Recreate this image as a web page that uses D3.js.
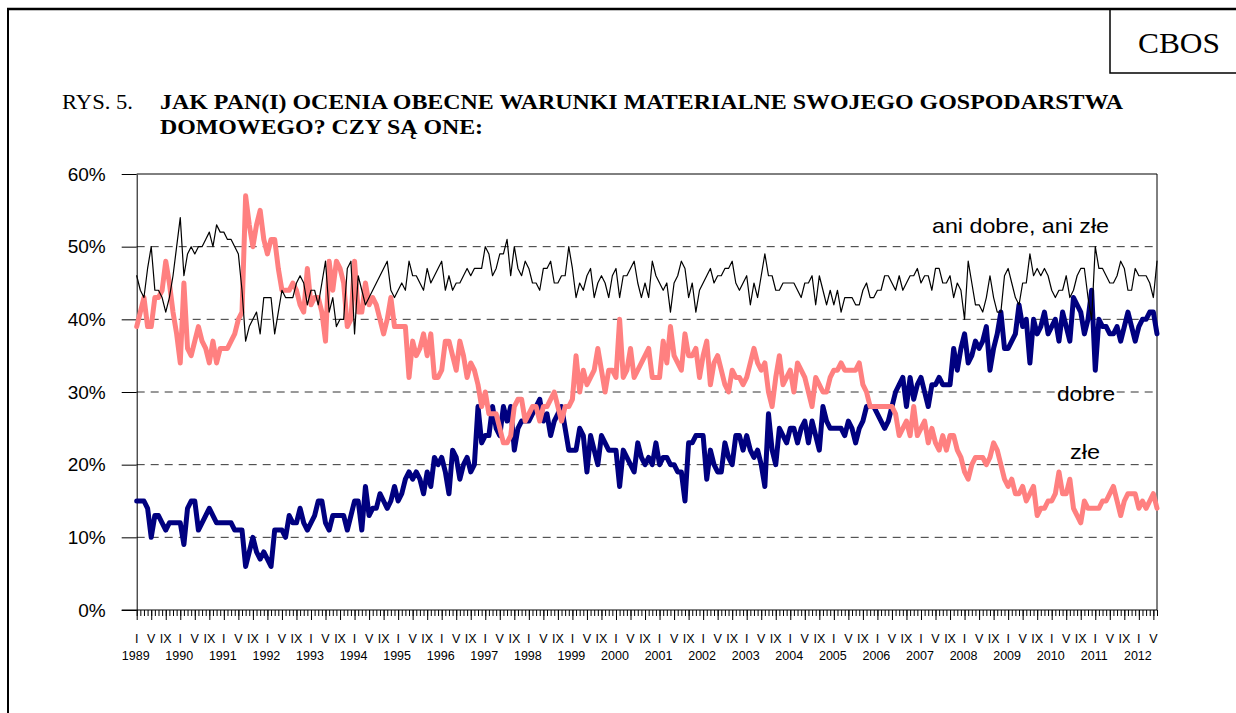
<!DOCTYPE html>
<html>
<head>
<meta charset="utf-8">
<script src="https://cdn.jsdelivr.net/npm/d3@7"></script>
<style>
    body { margin: 0; background: #fff; }
    svg { display: block; }
</style>
</head>
<body>
<svg id="chart" width="1236" height="713"></svg>
<script>
// survey years and month labels (roman numerals, as on the CBOS axis)
var years = [1989, 1990, 1991, 1992, 1993, 1994, 1995, 1996, 1997, 1998, 1999, 2000,
    2001, 2002, 2003, 2004, 2005, 2006, 2007, 2008, 2009, 2010, 2011, 2012];
var monthLabels = ["I", "II", "III", "IV", "V", "VI", "VII", "VIII", "IX", "X", "XI", "XII"];
var yTicks = [0, 10, 20, 30, 40, 50, 60];

// "dobre" - one row per year, monthly values in %
var dobre = [
    15, 15, 15, 14, 10, 13, 13, 12, 11, 12, 12, 12,
    12, 9, 14, 15, 15, 11, 12, 13, 14, 13, 12, 12,
    12, 12, 12, 11, 11, 11, 6, 8, 10, 8, 7, 8,
    7, 6, 11, 11, 11, 10, 13, 12, 12, 14, 12, 11,
    12, 13, 15, 15, 12, 11, 13, 13, 13, 13, 11, 13,
    15, 15, 11, 17, 13, 14, 14, 16, 15, 14, 15, 17,
    15, 16, 18, 19, 18, 19, 18, 16, 19, 17, 21, 20,
    21, 19, 16, 22, 21, 18, 20, 21, 19, 20, 28, 23,
    24, 24, 28, 25, 24, 28, 26, 28, 22, 25, 26, 26,
    26, 27, 28, 29, 26, 27, 24, 26, 27, 28, 25, 22,
    22, 22, 25, 24, 19, 24, 22, 20, 24, 23, 22, 22,
    22, 17, 22, 21, 20, 19, 23, 21, 20, 21, 20, 23,
    20, 21, 21, 20, 20, 19, 19, 15, 23, 23, 24, 24,
    24, 18, 22, 20, 19, 19, 23, 21, 20, 24, 24, 22,
    24, 22, 21, 22, 20, 17, 27, 22, 20, 25, 24, 23,
    25, 25, 23, 25, 26, 23, 26, 24, 22, 28, 26, 25,
    25, 25, 25, 24, 26, 25, 23, 25, 26, 28, 28, 28,
    27, 26, 25, 26, 28, 30, 31, 32, 28, 32, 29, 31,
    32, 30, 28, 31, 31, 32, 31, 31, 31, 36, 33, 36,
    38, 34, 35, 37, 36, 37, 39, 33, 36, 38, 41, 36,
    36, 37, 38, 42, 39, 40, 34, 40, 38, 39, 41, 38,
    39, 40, 37, 41, 39, 37, 43, 42, 41, 38, 40, 44,
    33, 40, 39, 39, 38, 38, 39, 37, 39, 41, 39, 37,
    39, 40, 40, 41, 41, 38
];

// "złe"
var zle = [
    39, 41, 43, 39, 39, 43, 43, 44, 48, 45, 41, 38,
    34, 45, 36, 35, 37, 39, 37, 36, 34, 37, 34, 36,
    36, 36, 37, 38, 40, 41, 57, 53, 50, 53, 55, 51,
    49, 51, 51, 47, 44, 44, 44, 45, 44, 42, 41, 47,
    42, 43, 43, 41, 37, 48, 44, 48, 47, 45, 39, 40,
    48, 41, 41, 45, 42, 43, 42, 40, 38, 40, 43, 39,
    39, 39, 39, 32, 37, 35, 36, 38, 35, 38, 32, 32,
    33, 37, 37, 35, 33, 37, 35, 32, 34, 33, 31, 28,
    30, 27, 27, 27, 25, 23, 23, 24, 28, 29, 29, 26,
    27, 28, 28, 26, 28, 28, 29, 30, 28, 26, 28, 28,
    29, 35, 30, 33, 31, 32, 33, 36, 33, 30, 33, 33,
    32, 40, 32, 33, 36, 32, 33, 34, 35, 36, 32, 32,
    32, 37, 34, 39, 35, 34, 33, 38, 35, 35, 36, 32,
    35, 37, 31, 34, 35, 33, 31, 30, 33, 32, 32, 31,
    32, 34, 36, 34, 33, 34, 30, 28, 32, 35, 31, 32,
    33, 30, 34, 33, 32, 30, 28, 32, 31, 30, 30, 32,
    33, 33, 34, 33, 33, 33, 33, 34, 31, 30, 28, 28,
    28, 28, 28, 28, 28, 27, 24, 25, 26, 24, 28, 24,
    25, 26, 23, 25, 23, 22, 24, 22, 24, 24, 22, 21,
    19, 18, 20, 21, 21, 21, 20, 21, 23, 22, 20, 18,
    17, 18, 16, 16, 17, 15, 16, 17, 13, 14, 14, 15,
    15, 16, 19, 16, 16, 18, 14, 13, 12, 15, 14, 14,
    14, 14, 15, 15, 16, 17, 15, 13, 15, 16, 16, 16,
    14, 15, 14, 15, 16, 14
];

// "ani dobre, ani złe"
var ani = [
    46, 44, 43, 47, 50, 44, 44, 43, 41, 43, 46, 50,
    54, 46, 49, 50, 49, 50, 50, 51, 52, 50, 53, 52,
    52, 51, 51, 50, 49, 44, 37, 39, 40, 41, 38, 43,
    43, 43, 38, 41, 44, 43, 43, 43, 45, 46, 45, 42,
    44, 44, 42, 45, 48, 41, 43, 39, 40, 40, 47, 48,
    38, 46, 44, 42, 43, 44, 45, 46, 47, 48, 44, 43,
    44, 45, 44, 48, 46, 46, 45, 44, 47, 45, 46, 47,
    48, 44, 46, 44, 45, 45, 46, 47, 46, 47, 47, 47,
    50, 49, 46, 47, 49, 49, 51, 46, 50, 47, 46, 48,
    47, 45, 45, 44, 47, 47, 48, 45, 45, 46, 46, 50,
    47, 43, 45, 44, 46, 47, 43, 45, 46, 45, 43, 46,
    47, 43, 46, 46, 47, 48, 45, 43, 45, 43, 48, 46,
    45, 44, 45, 41, 45, 46, 48, 47, 43, 45, 41, 44,
    45, 46, 47, 45, 46, 46, 47, 47, 48, 45, 44, 45,
    46, 42, 45, 43, 46, 49, 46, 46, 44, 44, 45, 45,
    45, 45, 44, 43, 45, 45, 46, 42, 46, 44, 42, 44,
    42, 44, 41, 43, 43, 43, 42, 42, 44, 45, 43, 43,
    44, 44, 46, 46, 45, 44, 46, 44, 45, 46, 46, 47,
    45, 46, 46, 44, 47, 47, 45, 45, 46, 43, 45, 44,
    40, 48, 45, 42, 42, 41, 43, 46, 43, 41, 41, 46,
    47, 45, 43, 42, 45, 45, 49, 46, 47, 46, 47, 46,
    44, 43, 44, 44, 46, 43, 44, 46, 47, 47, 43, 40,
    50, 47, 47, 46, 45, 45, 46, 48, 47, 44, 44, 47,
    46, 46, 46, 45, 43, 48
];

var series = [
    {name: "dobre", values: dobre, color: "#000080", width: 5},
    {name: "zle", values: zle, color: "#FF8080", width: 5},
    {name: "ani", values: ani, color: "#000000", width: 1.2}
];

// one category per survey month
var categories = [];
years.forEach(function (yr) {
    monthLabels.forEach(function (m, k) {
        categories.push({year: yr, month: k, label: m});
    });
});
categories = categories.slice(0, dobre.length);

var plot = {left: 136.7, right: 1157, top: 174, bottom: 610};
var SANS = "'Liberation Sans', Arial, sans-serif";
var SERIF = "'Liberation Serif', 'Times New Roman', serif";

var svg = d3.select("#chart");

var x = d3.scalePoint()
    .domain(d3.range(categories.length))
    .range([plot.left, plot.right]);

var y = d3.scaleLinear()
    .domain([0, 60])
    .range([plot.bottom, plot.top]);

// stretch a text to the width it has in the picture
function fit(sel, w) {
    return sel.attr("textLength", w).attr("lengthAdjust", "spacingAndGlyphs");
}

// page frame
svg.append("line").attr("x1", 8).attr("x2", 8).attr("y1", 9).attr("y2", 713)
    .attr("stroke", "#000").attr("stroke-width", 2);
svg.append("line").attr("x1", 7).attr("x2", 1236).attr("y1", 9).attr("y2", 9)
    .attr("stroke", "#000").attr("stroke-width", 2.5);

// CBOS box
svg.append("path")
    .attr("d", "M1110,9 L1110,73 L1236,73")
    .attr("fill", "none").attr("stroke", "#000").attr("stroke-width", 1.5);
fit(svg.append("text")
    .attr("x", 1138).attr("y", 53)
    .style("font-family", SERIF).style("font-size", "30px")
    .text("CBOS"), 82);

// title
fit(svg.append("text")
    .attr("x", 62).attr("y", 109)
    .style("font-family", SERIF).style("font-size", "20px")
    .text("RYS. 5."), 71);
fit(svg.append("text")
    .attr("x", 160).attr("y", 109)
    .style("font-family", SERIF).style("font-size", "21px").style("font-weight", "bold")
    .text("JAK PAN(I) OCENIA OBECNE WARUNKI MATERIALNE SWOJEGO GOSPODARSTWA"), 963);
fit(svg.append("text")
    .attr("x", 160).attr("y", 134)
    .style("font-family", SERIF).style("font-size", "21px").style("font-weight", "bold")
    .text("DOMOWEGO? CZY SĄ ONE:"), 323);

// dashed grid
svg.append("g").attr("class", "grid")
    .selectAll("line")
    .data(yTicks.filter(function (d) { return d > 0 && d < 60; }))
    .enter().append("line")
    .attr("x1", plot.left).attr("x2", plot.right)
    .attr("y1", function (d) { return y(d); })
    .attr("y2", function (d) { return y(d); })
    .attr("stroke", "#333")
    .attr("stroke-width", 1)
    .attr("stroke-dasharray", "8,6");

// plot frame (top and right)
svg.append("path")
    .attr("d", "M" + plot.left + "," + plot.top + "H" + plot.right + "V" + plot.bottom)
    .attr("fill", "none").attr("stroke", "#000").attr("stroke-width", 1);

// y axis
var yAxis = svg.append("g")
    .attr("transform", "translate(" + plot.left + ",0)")
    .call(d3.axisLeft(y).tickValues(yTicks).tickSize(15).tickSizeOuter(0)
        .tickFormat(function (d) { return d + "%"; }));
yAxis.select(".domain").attr("stroke", "#000");
yAxis.selectAll(".tick line").attr("stroke", "#000");
yAxis.selectAll(".tick text")
    .attr("x", -31)
    .style("font-family", SANS).style("font-size", "19px").attr("fill", "#000");

// x axis: a tick every month, a longer one every 4 months
var xMinor = svg.append("g")
    .attr("transform", "translate(0," + plot.bottom + ")")
    .call(d3.axisBottom(x).tickSize(6).tickSizeOuter(0).tickFormat(""));
xMinor.select(".domain").remove();
xMinor.selectAll(".tick line").attr("stroke", "#000");

var xMajor = svg.append("g")
    .attr("transform", "translate(0," + plot.bottom + ")")
    .call(d3.axisBottom(x)
        .tickValues(x.domain().filter(function (i) { return i % 4 === 0; }))
        .tickSize(10).tickSizeOuter(0).tickFormat(""));
xMajor.select(".domain").remove();
xMajor.selectAll(".tick line").attr("stroke", "#000");

svg.append("line")
    .attr("x1", plot.left - 15).attr("x2", plot.right)
    .attr("y1", plot.bottom).attr("y2", plot.bottom)
    .attr("stroke", "#000").attr("stroke-width", 1);

// month labels I, V, IX and the year under I
var labelCats = categories
    .map(function (c, i) { return {c: c, i: i}; })
    .filter(function (d) { return d.c.month % 4 === 0; });

svg.append("g").selectAll("text")
    .data(labelCats)
    .enter().append("text")
    .attr("x", function (d) { return x(d.i); })
    .attr("y", 643)
    .attr("text-anchor", "middle")
    .style("font-family", SANS).style("font-size", "12.5px")
    .text(function (d) { return d.c.label; });

svg.append("g").selectAll("text")
    .data(labelCats.filter(function (d) { return d.c.month === 0; }))
    .enter().append("text")
    .attr("x", function (d) { return x(d.i) - 1; })
    .attr("y", 660)
    .attr("text-anchor", "middle")
    .style("font-family", SANS).style("font-size", "12.5px")
    .text(function (d) { return d.c.year; });

// series lines
var line = d3.line()
    .x(function (d, i) { return x(i); })
    .y(function (d) { return y(d); });

svg.append("g").attr("class", "lines")
    .selectAll("path")
    .data(series)
    .enter().append("path")
    .attr("d", function (d) { return line(d.values); })
    .attr("fill", "none")
    .attr("stroke", function (d) { return d.color; })
    .attr("stroke-width", function (d) { return d.width; })
    .attr("stroke-linejoin", "round")
    .attr("stroke-linecap", "round");

// series names
var names = [
    {text: "ani dobre, ani złe", x: 932, y: 233, w: 177},
    {text: "dobre", x: 1057, y: 401, w: 58},
    {text: "złe", x: 1070, y: 459, w: 30}
];
svg.append("g").selectAll("text")
    .data(names)
    .enter().append("text")
    .attr("x", function (d) { return d.x; })
    .attr("y", function (d) { return d.y; })
    .attr("textLength", function (d) { return d.w; })
    .attr("lengthAdjust", "spacingAndGlyphs")
    .style("font-family", SANS).style("font-size", "21px")
    .text(function (d) { return d.text; });
</script>
</body>
</html>
